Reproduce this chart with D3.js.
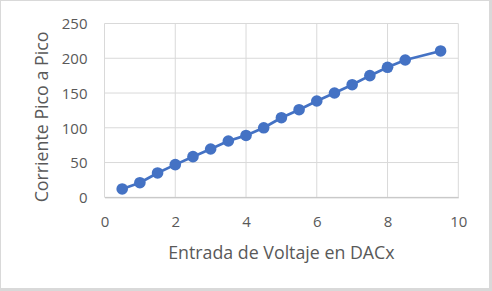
<!DOCTYPE html>
<html>
<head>
<meta charset="utf-8">
<script src="https://cdn.jsdelivr.net/npm/d3@7"></script>
<style>
html,body{margin:0;padding:0;background:#fff;}
svg{display:block;}
</style>
</head>
<body>
<svg id="chart" width="492" height="291"></svg>
<script>
const xValues = [0.5, 1, 1.5, 2, 2.5, 3, 3.5, 4, 4.5, 5, 5.5, 6, 6.5, 7, 7.5, 8, 8.5, 9.5];
const yValues = [12, 21, 35, 47, 58.5, 69.5, 81, 89, 100, 114.5, 126, 138.5, 150, 162, 175, 187, 197.5, 210.5];
const xTicks = [0, 2, 4, 6, 8, 10];
const yTicks = [0, 50, 100, 150, 200, 250];
const xTitle = "Entrada de Voltaje en DACx";
const yTitle = "Corriente Pico a Pico";

const svg = d3.select("#chart");
const W = 492, H = 291;
const font = "'Open Sans', 'Segoe UI', sans-serif";
const textColor = "#595959";
const gridColor = "#d9d9d9";
const lineColor = "#4472c4";

// chart frame
svg.append("rect").attr("x", 0).attr("y", 0).attr("width", W).attr("height", H).attr("fill", "#d9d9d9");
svg.append("rect").attr("x", 1).attr("y", 1).attr("width", 488).attr("height", 287).attr("fill", "#ffffff");

const plot = {left: 104.5, right: 458.3, top: 23.5, bottom: 197.3};
const x = d3.scaleLinear().domain([0, 10]).range([plot.left, plot.right]);
const y = d3.scaleLinear().domain([0, 250]).range([plot.bottom, plot.top]);

// gridlines
const g = svg.append("g");
g.selectAll("line.h").data(yTicks).enter().append("line")
  .attr("x1", plot.left).attr("x2", plot.right)
  .attr("y1", d => y(d)).attr("y2", d => y(d))
  .attr("stroke", gridColor).attr("stroke-width", 1);
g.selectAll("line.v").data(xTicks).enter().append("line")
  .attr("y1", plot.top).attr("y2", plot.bottom)
  .attr("x1", d => x(d)).attr("x2", d => x(d))
  .attr("stroke", gridColor).attr("stroke-width", 1);

// axes
const xAxis = d3.axisBottom(x).tickValues(xTicks).tickSize(0).tickPadding(0).tickFormat(d3.format("d"));
const xg = svg.append("g").attr("transform", `translate(0,${plot.bottom})`).call(xAxis);
xg.select(".domain").attr("stroke", "#bfbfbf").attr("stroke-width", 1);
xg.selectAll("text").attr("font-family", font).attr("font-size", 15).attr("fill", textColor)
  .attr("dy", null).attr("y", 30);

const yAxis = d3.axisLeft(y).tickValues(yTicks).tickSize(0).tickPadding(0).tickFormat(d3.format("d"));
const yg = svg.append("g").attr("transform", `translate(${plot.left},0)`).call(yAxis);
yg.select(".domain").remove();
yg.selectAll("text").attr("font-family", font).attr("font-size", 15).attr("fill", textColor)
  .attr("x", -17).attr("dy", "0.35em");

// titles
svg.append("text").attr("x", 281.4).attr("y", 259)
  .attr("text-anchor", "middle").attr("font-family", font).attr("font-size", 17.8)
  .attr("fill", textColor).text(xTitle);
svg.append("text").attr("transform", "translate(48,117) rotate(-90)")
  .attr("text-anchor", "middle").attr("font-family", font).attr("font-size", 17.8)
  .attr("fill", textColor).text(yTitle);

// series
const data = xValues.map((v, i) => ({x: v, y: yValues[i]}));
svg.append("path").datum(data)
  .attr("d", d3.line().x(d => x(d.x)).y(d => y(d.y)))
  .attr("fill", "none").attr("stroke", lineColor).attr("stroke-width", 2.75)
  .attr("stroke-linejoin", "round").attr("stroke-linecap", "round");
svg.selectAll("circle.pt").data(data).enter().append("circle")
  .attr("cx", d => x(d.x)).attr("cy", d => y(d.y)).attr("r", 5.8)
  .attr("fill", lineColor);
</script>
</body>
</html>
